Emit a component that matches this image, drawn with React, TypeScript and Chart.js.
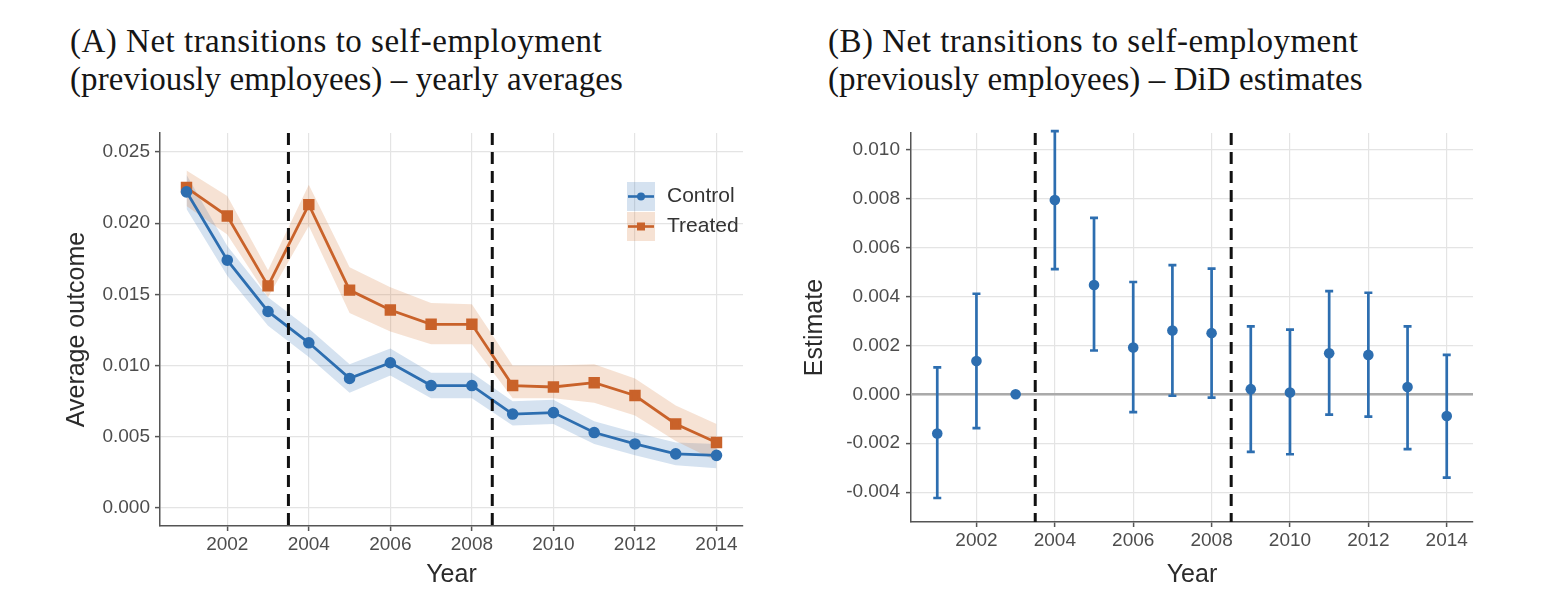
import { useEffect, useRef } from "react";
import { Chart, registerables } from "chart.js";

Chart.register(...registerables);

// ---- data ----
const years = [2001, 2002, 2003, 2004, 2005, 2006, 2007, 2008, 2009, 2010, 2011, 2012, 2013, 2014];

const controlMean = [0.0222, 0.0174, 0.0138, 0.0116, 0.0091, 0.0102, 0.0086, 0.0086, 0.0066, 0.0067, 0.0053, 0.0045, 0.0038, 0.0037];
const controlLow = [0.021, 0.0163, 0.0128, 0.0106, 0.0081, 0.0093, 0.0077, 0.0077, 0.0058, 0.0059, 0.0045, 0.0037, 0.003, 0.0028];
const controlHigh = [0.0234, 0.0184, 0.0148, 0.0126, 0.0101, 0.0112, 0.0095, 0.0095, 0.0075, 0.0076, 0.0061, 0.0053, 0.0046, 0.0045];

const treatedMean = [0.0225, 0.0205, 0.0156, 0.0213, 0.0153, 0.0139, 0.0129, 0.0129, 0.0086, 0.0085, 0.0088, 0.0079, 0.0059, 0.0046];
const treatedLow = [0.0212, 0.0192, 0.0148, 0.0198, 0.0137, 0.0124, 0.0115, 0.0115, 0.0077, 0.0077, 0.0074, 0.0065, 0.0047, 0.0033];
const treatedHigh = [0.0237, 0.0219, 0.0167, 0.0227, 0.0169, 0.0155, 0.0144, 0.0143, 0.01, 0.01, 0.0101, 0.0091, 0.0072, 0.0059];

const estimate = [-0.0016, 0.00136, 0, 0.00794, 0.00447, 0.00191, 0.00261, 0.0025, 0.00021, 0.00007, 0.00168, 0.00161, 0.0003, -0.00089];
const estimateLow = [-0.00424, -0.00138, null, 0.00512, 0.00179, -0.00073, -0.00006, -0.00014, -0.00235, -0.00245, -0.00083, -0.00091, -0.00224, -0.00341];
const estimateHigh = [0.0011, 0.00411, null, 0.01076, 0.00721, 0.00459, 0.00528, 0.00514, 0.00278, 0.00264, 0.00422, 0.00415, 0.00278, 0.00161];

const policyBreaks = [2003.5, 2008.5];
const yearTicks = [2002, 2004, 2006, 2008, 2010, 2012, 2014];
const outcomeTicks = [0, 0.005, 0.01, 0.015, 0.02, 0.025];
const estimateTicks = [-0.004, -0.002, 0, 0.002, 0.004, 0.006, 0.008, 0.01];

const legendLabels = ["Control", "Treated"];

const BLUE = "#2d6eb0";
const BLUE_BAND = "rgba(44,112,181,0.2)";
const ORANGE = "#c9622a";
const ORANGE_BAND = "rgba(210,110,40,0.2)";
const TICK_FONT = { family: "'Liberation Sans', Arial, sans-serif", size: 19 };
const TITLE_FONT = { family: "'Liberation Sans', Arial, sans-serif", size: 25 };

function pts(ys: (number | null)[]) {
  return years.map((x, i) => ({ x, y: ys[i] }));
}

function axisStyle() {
  return {
    grid: {
      color: "#e4e4e4",
      lineWidth: 1.2,
      tickColor: "#555",
      tickWidth: 1.5,
      tickLength: 5,
    },
    border: { color: "#555", width: 1.5 },
    ticks: { color: "#4d4d4d", font: TICK_FONT },
  };
}

const dashedBreaks = {
  id: "dashedBreaks",
  afterDatasetsDraw(chart: any) {
    const { ctx, chartArea, scales } = chart;
    ctx.save();
    ctx.strokeStyle = "#111";
    ctx.lineWidth = 3;
    ctx.setLineDash([12, 7]);
    policyBreaks.forEach((b) => {
      const x = scales.x.getPixelForValue(b);
      ctx.beginPath();
      ctx.moveTo(x, chartArea.top);
      ctx.lineTo(x, chartArea.bottom);
      ctx.stroke();
    });
    ctx.restore();
  },
};

const bandLegend = {
  id: "bandLegend",
  afterDraw(chart: any) {
    const { ctx, chartArea } = chart;
    const colors = [
      [BLUE, BLUE_BAND],
      [ORANGE, ORANGE_BAND],
    ];
    const left = chartArea.right - 116;
    ctx.save();
    legendLabels.forEach((label, i) => {
      const top = 182 + i * 30;
      const [line, band] = colors[i];
      ctx.fillStyle = band;
      ctx.fillRect(left, top, 28, 29);
      const cy = top + 14.5;
      ctx.strokeStyle = line;
      ctx.lineWidth = 2.6;
      ctx.beginPath();
      ctx.moveTo(left + 1, cy);
      ctx.lineTo(left + 27, cy);
      ctx.stroke();
      ctx.fillStyle = line;
      if (i === 0) {
        ctx.beginPath();
        ctx.arc(left + 14, cy, 4, 0, Math.PI * 2);
        ctx.fill();
      } else {
        ctx.fillRect(left + 10, cy - 4, 8, 8);
      }
      ctx.fillStyle = "#333";
      ctx.font = "21px 'Liberation Sans', Arial, sans-serif";
      ctx.textBaseline = "middle";
      ctx.fillText(label, left + 40, cy);
    });
    ctx.restore();
  },
};

const errorBars = {
  id: "errorBars",
  beforeDatasetsDraw(chart: any) {
    const { ctx, chartArea, scales } = chart;
    ctx.save();
    // zero reference line
    const y0 = scales.y.getPixelForValue(0);
    ctx.strokeStyle = "#aaaaaa";
    ctx.lineWidth = 2.5;
    ctx.beginPath();
    ctx.moveTo(chartArea.left, y0);
    ctx.lineTo(chartArea.right, y0);
    ctx.stroke();
    // dashed breaks
    ctx.strokeStyle = "#111";
    ctx.lineWidth = 3;
    ctx.setLineDash([12, 7]);
    policyBreaks.forEach((b) => {
      const x = scales.x.getPixelForValue(b);
      ctx.beginPath();
      ctx.moveTo(x, chartArea.top);
      ctx.lineTo(x, chartArea.bottom);
      ctx.stroke();
    });
    ctx.setLineDash([]);
    // confidence intervals
    ctx.strokeStyle = BLUE;
    ctx.lineWidth = 2.7;
    years.forEach((yr, i) => {
      const lo = estimateLow[i];
      const hi = estimateHigh[i];
      if (lo === null || hi === null) return;
      const x = scales.x.getPixelForValue(yr);
      const yl = scales.y.getPixelForValue(lo);
      const yh = scales.y.getPixelForValue(hi);
      ctx.beginPath();
      ctx.moveTo(x, yl);
      ctx.lineTo(x, yh);
      ctx.moveTo(x - 4, yl);
      ctx.lineTo(x + 4, yl);
      ctx.moveTo(x - 4, yh);
      ctx.lineTo(x + 4, yh);
      ctx.stroke();
    });
    ctx.restore();
  },
};

function AveragesChart() {
  const ref = useRef<HTMLCanvasElement | null>(null);

  useEffect(() => {
    const canvas = ref.current;
    if (!canvas) return;
    const chart = new Chart(canvas, {
      type: "line",
      data: {
        datasets: [
          { data: pts(controlLow), borderWidth: 0, pointRadius: 0, fill: false, order: 3 },
          { data: pts(controlHigh), borderWidth: 0, pointRadius: 0, fill: "-1", backgroundColor: BLUE_BAND, order: 3 },
          { data: pts(treatedLow), borderWidth: 0, pointRadius: 0, fill: false, order: 2 },
          { data: pts(treatedHigh), borderWidth: 0, pointRadius: 0, fill: "-1", backgroundColor: ORANGE_BAND, order: 2 },
          {
            label: legendLabels[0],
            data: pts(controlMean),
            borderColor: BLUE,
            backgroundColor: BLUE,
            borderWidth: 2.8,
            pointRadius: 4.4,
            pointStyle: "circle",
            order: 0,
          },
          {
            label: legendLabels[1],
            data: pts(treatedMean),
            borderColor: ORANGE,
            backgroundColor: ORANGE,
            borderWidth: 2.8,
            pointRadius: 6.1,
            pointStyle: "rect",
            order: 1,
          },
        ] as any,
      },
      options: {
        responsive: false,
        animation: false,
        events: [],
        layout: { padding: { top: 133, right: 37, left: 0, bottom: 0 } },
        plugins: { legend: { display: false }, tooltip: { enabled: false } },
        scales: {
          x: {
            type: "linear",
            min: 2000.35,
            max: 2014.65,
            ...axisStyle(),
            ticks: { ...axisStyle().ticks, padding: 2, callback: (v: any) => String(v) },
            afterBuildTicks: (s: any) => {
              s.ticks = yearTicks.map((value) => ({ value }));
            },
            afterFit: (s: any) => {
              s.height = 73;
            },
            title: { display: true, text: "Year", color: "#2b2b2b", font: TITLE_FONT, padding: { top: 0, bottom: 9 } },
          },
          y: {
            min: -0.00126,
            max: 0.02633,
            ...axisStyle(),
            ticks: { ...axisStyle().ticks, padding: 5, callback: (v: any) => Number(v).toFixed(3) },
            afterBuildTicks: (s: any) => {
              s.ticks = outcomeTicks.map((value) => ({ value }));
            },
            afterFit: (s: any) => {
              s.width = 160;
            },
            title: { display: true, text: "Average outcome", color: "#2b2b2b", font: TITLE_FONT, padding: { top: 62, bottom: 0 } },
          },
        },
      } as any,
      plugins: [dashedBreaks, bandLegend],
    });
    return () => {
      chart.destroy();
    };
  }, []);

  return <canvas ref={ref} width={780} height={599} style={{ position: "absolute", left: 0, top: 0 }} />;
}

function EstimatesChart() {
  const ref = useRef<HTMLCanvasElement | null>(null);

  useEffect(() => {
    const canvas = ref.current;
    if (!canvas) return;
    const chart = new Chart(canvas, {
      type: "scatter",
      data: {
        datasets: [
          {
            data: pts(estimate),
            backgroundColor: BLUE,
            borderColor: BLUE,
            pointRadius: 5.3,
            borderWidth: 0,
          },
        ],
      },
      options: {
        responsive: false,
        animation: false,
        events: [],
        layout: { padding: { top: 133, right: 92, left: 0, bottom: 0 } },
        plugins: { legend: { display: false }, tooltip: { enabled: false } },
        scales: {
          x: {
            type: "linear",
            min: 2000.33,
            max: 2014.67,
            ...axisStyle(),
            ticks: { ...axisStyle().ticks, padding: 2, callback: (v: any) => String(v) },
            afterBuildTicks: (s: any) => {
              s.ticks = yearTicks.map((value) => ({ value }));
            },
            afterFit: (s: any) => {
              s.height = 77;
            },
            title: { display: true, text: "Year", color: "#2b2b2b", font: TITLE_FONT, padding: { top: 0, bottom: 9 } },
          },
          y: {
            min: -0.00522,
            max: 0.01068,
            ...axisStyle(),
            ticks: { ...axisStyle().ticks, padding: 6, callback: (v: any) => Number(v).toFixed(3) },
            afterBuildTicks: (s: any) => {
              s.ticks = estimateTicks.map((value) => ({ value }));
            },
            afterFit: (s: any) => {
              s.width = 121;
            },
            title: { display: true, text: "Estimate", color: "#2b2b2b", font: TITLE_FONT, padding: { top: 10, bottom: 0 } },
          },
        },
      } as any,
      plugins: [errorBars],
    });
    return () => {
      chart.destroy();
    };
  }, []);

  return <canvas ref={ref} width={775} height={599} style={{ position: "absolute", left: 790, top: 0 }} />;
}

const titleStyle: React.CSSProperties = {
  position: "absolute",
  top: 22,
  fontFamily: "'Liberation Serif', 'Times New Roman', serif",
  fontSize: 33,
  lineHeight: "38px",
  color: "#151515",
  whiteSpace: "nowrap",
};

export default function App() {
  return (
    <div style={{ position: "fixed", left: 0, top: 0, width: 1565, height: 599, background: "#fff", overflow: "hidden" }}>
      <div style={{ ...titleStyle, left: 70 }}>
        <div style={{ letterSpacing: "0.5px" }}>(A) Net transitions to self-employment</div>
        <div style={{ letterSpacing: "0.08px" }}>(previously employees) – yearly averages</div>
      </div>
      <div style={{ ...titleStyle, left: 828 }}>
        <div style={{ letterSpacing: "0.5px" }}>(B) Net transitions to self-employment</div>
        <div style={{ letterSpacing: "0.08px" }}>(previously employees) – DiD estimates</div>
      </div>
      <AveragesChart />
      <EstimatesChart />
    </div>
  );
}
